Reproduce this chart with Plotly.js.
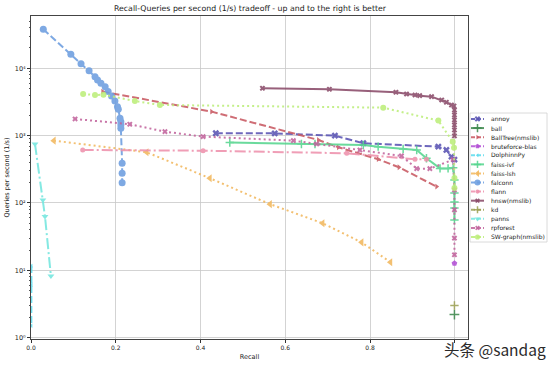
<!DOCTYPE html>
<html>
<head>
<meta charset="utf-8">
<script src="https://cdn.plot.ly/plotly-3.0.1.min.js"></script>
<style>html,body{margin:0;padding:0;background:#fff;}#chart{width:550px;height:366px;}</style>
</head>
<body>
<div id="chart"></div>
<script>
// ---- data ----
const seriesNames = ["annoy","ball","BallTree(nmslib)","bruteforce-blas","DolphinnPy","faiss-ivf","faiss-lsh","falconn","flann","hnsw(nmslib)","kd","panns","rpforest","SW-graph(nmslib)"];

const annoyRecall = [0.436,0.575,0.717,0.784,0.961,0.980,0.992,0.999];
const annoyQps    = [1084,1080,998,770,686,612,487,440];

const ballRecall = [0.999];
const ballQps    = [2.2];

const ballTreeRecall = [0.169,0.426,0.678,0.725,0.819,0.868,0.957];
const ballTreeQps    = [4500,2270,861,671,446,339,175];

const bruteRecall = [0.999];
const bruteQps    = [12.7];

const dolphinnRecall = [0.001,0.0012,0.0008];
const dolphinnQps    = [11.6,6.1,1.5];

const faissIvfRecall = [0.469,0.638,0.670,0.784,0.819,0.878,0.910,0.933,0.965,0.984,0.996,0.999,0.999,0.999,0.999,0.999];
const faissIvfQps    = [789,752,752,726,686,634,612,461,326,326,334,220,141,103,84,56];

const faissLshRecall = [0.054,0.273,0.422,0.564,0.688,0.780,0.848];
const faissLshQps    = [842,566,233,96,50,26,13.2];

const falconnRecall = [0.029,0.094,0.118,0.137,0.151,0.157,0.165,0.175,0.182,0.190,0.198,0.204,0.206,0.210,0.212,0.212,0.212,0.215,0.215,0.215];
const falconnQps    = [37900,16100,11700,9200,7500,6700,6000,5330,4500,3880,3270,2690,2460,1810,1610,1440,1290,388,276,200];

const flannRecall = [0.122,0.406,0.745,0.906,0.933];
const flannQps    = [612,597,547,446,446];

const hnswRecall = [0.546,0.704,0.861,0.886,0.906,0.917,0.945,0.969,0.980,0.992,0.998,0.999,0.999,0.999,0.999,0.999,0.999];
const hnswQps    = [5050,4880,4400,4150,4010,3920,3790,3380,3130,2850,2750,2400,2030,1710,1440,1210,990];

const kdRecall = [0.999];
const kdQps    = [3.0];

const pannsRecall = [0.0094,0.028,0.033,0.047];
const pannsQps    = [752,111,63,8.2];

const rpforestRecall = [0.104,0.233,0.316,0.406,0.619,0.674,0.776,0.874,0.910,0.941,0.996,0.999,0.999,0.999,0.999];
const rpforestQps    = [1767,1475,1145,966,842,752,612,499,323,323,440,156,79,30,17];

const swRecall = [0.123,0.151,0.171,0.245,0.304,0.831,0.961,0.995,0.998,0.999,0.999];
const swQps    = [4150,4010,4050,3270,2850,2600,1670,810,660,235,167];

const xTickVals = [0,0.2,0.4,0.6,0.8];
const xTickText = ["0.0","0.2","0.4","0.6","0.8"];
const yTickVals = [1,10,100,1000,10000];
const yTickText = ["10\u2070","10\u00b9","10\u00b2","10\u00b3","10\u2074"];

// ---- styles ----
const DASH = "7px,3px", DOT = "2px,3px", DASHDOT = "11px,3px,2px,3px";
const styles = [
  {c:"#5953b3", dash:DASH,    sym:"x",               size:6},
  {c:"#3f8a4e", dash:"solid", sym:"cross-thin-open", size:7},
  {c:"#c95a63", dash:DASH,    sym:"triangle-right",  size:5},
  {c:"#b350d6", dash:DASHDOT, sym:"pentagon",        size:6},
  {c:"#5fdcee", dash:DASH,    sym:"triangle-left",   size:4},
  {c:"#56d68f", dash:"solid", sym:"cross-thin-open", size:6},
  {c:"#f2b85e", dash:DOT,     sym:"triangle-left",   size:7},
  {c:"#6d9ee0", dash:DASH,    sym:"circle",          size:7},
  {c:"#ee91ad", dash:DASHDOT, sym:"circle",          size:5},
  {c:"#8a4b69", dash:"solid", sym:"x",               size:5},
  {c:"#9ea256", dash:DOT,     sym:"cross-thin-open", size:6},
  {c:"#74e6df", dash:DASHDOT, sym:"triangle-down",   size:6},
  {c:"#c2649d", dash:DOT,     sym:"x",               size:5},
  {c:"#bdee7a", dash:DOT,     sym:"circle",          size:6}
];
const seriesData = [
  [annoyRecall,annoyQps],[ballRecall,ballQps],[ballTreeRecall,ballTreeQps],[bruteRecall,bruteQps],
  [dolphinnRecall,dolphinnQps],[faissIvfRecall,faissIvfQps],[faissLshRecall,faissLshQps],
  [falconnRecall,falconnQps],[flannRecall,flannQps],[hnswRecall,hnswQps],[kdRecall,kdQps],
  [pannsRecall,pannsQps],[rpforestRecall,rpforestQps],[swRecall,swQps]
];

function markerOf(s, scale){
  const open = s.sym.indexOf("open")>=0;
  return {symbol:s.sym, size:s.size*(scale||1), color:s.c, line:{color:s.c, width: open?1.5:0}};
}

const traces = [];
seriesData.forEach((d,i)=>{
  const s = styles[i];
  traces.push({
    type:"scatter", mode:"lines+markers", name:seriesNames[i],
    x:d[0], y:d[1], xaxis:"x", yaxis:"y",
    line:{color:s.c, width:2, dash:s.dash}, marker:markerOf(s),
    opacity:0.88, showlegend:false, hoverinfo:"skip"
  });
});

// compact legend drawn on a helper axis pair
const legendAnnots = [];
seriesNames.forEach((n,i)=>{
  const s = styles[i];
  traces.push({type:"scatter", mode:"lines", x:[0,1], y:[i,i], xaxis:"x2", yaxis:"y2",
    line:{color:s.c, width:2, dash:s.dash==="solid"?"solid":"4px,2px"}, showlegend:false, hoverinfo:"skip", opacity:0.88});
  traces.push({type:"scatter", mode:"markers", x:[0.5], y:[i], xaxis:"x2", yaxis:"y2",
    marker:markerOf(s,0.85), showlegend:false, hoverinfo:"skip", opacity:0.88});
  legendAnnots.push({xref:"paper", yref:"y2", x:0.8825, y:i, xanchor:"left", yanchor:"middle",
    text:n, showarrow:false, font:{family:"DejaVu Sans", size:6, color:"#222"}});
});

const W = 519, H = 323;
const layout = {
  width:550, height:366,
  margin:{l:31, r:0, t:16, b:27},
  paper_bgcolor:"#fff", plot_bgcolor:"#fff",
  font:{family:"DejaVu Sans", size:6, color:"#222"},
  title:{text:"Recall-Queries per second (1/s) tradeoff - up and to the right is better",
    font:{family:"DejaVu Sans", size:7.8, color:"#222"},
    xref:"container", yref:"container", x:250/550, y:1-8/366, xanchor:"center", yanchor:"middle"},
  xaxis:{domain:[0,437/W], range:[0,1.031], tickvals:xTickVals, ticktext:xTickText,
    ticks:"outside", ticklen:3, tickcolor:"#333", tickfont:{size:6},
    showgrid:true, gridcolor:"#c8c8c8", gridwidth:0.8, zeroline:false,
    minor:{tickvals:[1.0], showgrid:true, gridcolor:"#c8c8c8", gridwidth:0.8, ticks:"outside", ticklen:3, tickcolor:"#333"},
    showline:true, linecolor:"#444", linewidth:1, mirror:true,
    title:{text:"Recall", font:{size:6.5}, standoff:4}, anchor:"y"},
  yaxis:{type:"log", range:[-0.02,4.776], tickvals:yTickVals, ticktext:yTickText,
    ticks:"outside", ticklen:3, tickcolor:"#333", tickfont:{size:6.5},
    minor:{ticks:"outside", ticklen:1.5, tickcolor:"#555",
      tickvals:[2,3,4,5,6,7,8,9,20,30,40,50,60,70,80,90,200,300,400,500,600,700,800,900,2000,3000,4000,5000,6000,7000,8000,9000,20000,30000,40000,50000]},
    showgrid:true, gridcolor:"#c8c8c8", gridwidth:0.8, zeroline:false,
    showline:true, linecolor:"#444", linewidth:1, mirror:true,
    title:{text:"Queries per second (1/s)", font:{size:6.5}, standoff:4}, anchor:"x"},
  xaxis2:{domain:[(471-31)/W,(484-31)/W], range:[0,1], visible:false, anchor:"y2", fixedrange:true},
  yaxis2:{domain:[(339-242)/H,(339-113)/H], range:[13.55,-0.66], visible:false, anchor:"x2", fixedrange:true},
  shapes:[{type:"rect", xref:"paper", yref:"paper", x0:(470-31)/W, x1:(547-31)/W, y0:(339-242)/H, y1:(339-113)/H,
    line:{color:"#d0d0d0", width:0.8}, fillcolor:"rgba(255,255,255,0.8)", layer:"below"}],
  annotations: legendAnnots.concat([
    {xref:"paper", yref:"paper", x:(442-31)/W, y:(339-349)/H, xanchor:"left", yanchor:"middle",
     text:"头条 @sandag", showarrow:false,
     font:{family:"Noto Sans CJK SC", size:15.5, color:"#2a2a2a"}}
  ]),
  showlegend:false
};

Plotly.newPlot("chart", traces, layout, {displayModeBar:false, staticPlot:true});
</script>
</body>
</html>
